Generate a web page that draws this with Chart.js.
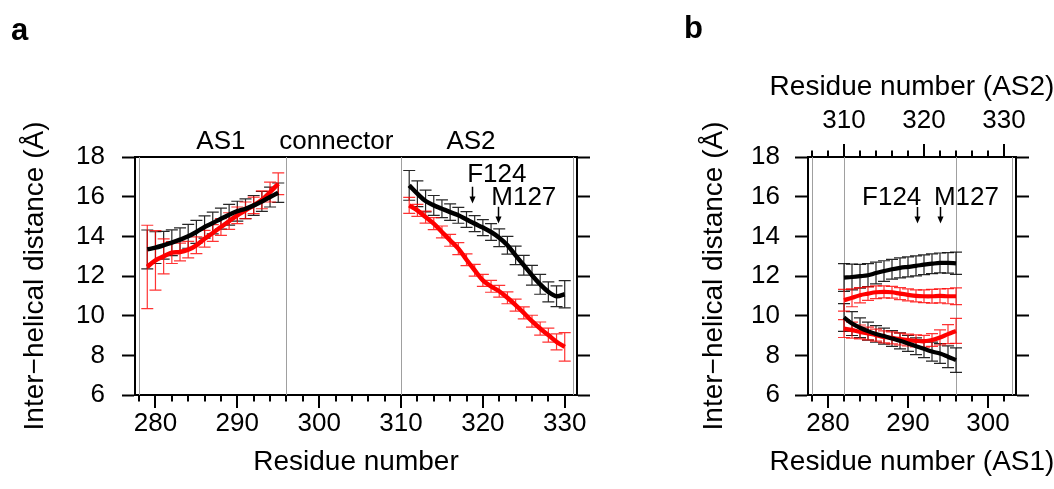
<!DOCTYPE html>
<html><head><meta charset="utf-8">
<script src="https://cdn.jsdelivr.net/npm/chart.js@4.4.0/dist/chart.umd.min.js"></script>
<style>
html,body{margin:0;padding:0;background:#fff;}
#wrap{position:relative;width:1054px;height:489px;overflow:hidden;background:#fff;}
#ca{position:absolute;left:0;top:0;width:620px;height:489px;}
#cb{position:absolute;left:640px;top:0;width:414px;height:489px;}
.plab{position:absolute;font-family:'Liberation Sans',Arial,sans-serif;font-weight:bold;font-size:31px;line-height:31px;color:#000;}
</style></head><body>
<div id="wrap">
<canvas id="ca" width="620" height="489"></canvas>
<canvas id="cb" width="414" height="489"></canvas>
<div class="plab" style="left:11px;top:14px;">a</div>
<div class="plab" style="left:684px;top:12px;">b</div>
</div>
<script>
// ---------- data ----------
// panel a
const residuesAS1 = [279,280,281,282,283,284,285,286,287,288,289,290,291,292,293,294,295];
const blackAS1    = [13.34,13.43,13.55,13.68,13.83,14.00,14.22,14.47,14.67,14.89,15.09,15.27,15.39,15.56,15.76,15.98,16.20];
const blackAS1Err = [0.98,0.80,0.70,0.65,0.60,0.60,0.58,0.56,0.55,0.53,0.52,0.50,0.50,0.50,0.50,0.50,0.49];
const redAS1      = [12.46,12.79,12.99,13.18,13.21,13.33,13.55,13.88,14.17,14.47,14.77,15.06,15.31,15.56,15.84,16.23,16.65];
const redAS1Err   = [2.10,1.50,0.88,0.55,0.45,0.42,0.42,0.42,0.42,0.42,0.42,0.42,0.42,0.42,0.45,0.50,0.55];

const residuesAS2 = [311,312,313,314,315,316,317,318,319,320,321,322,323,324,325,326,327,328,329,330];
const blackAS2    = [16.57,16.15,15.78,15.56,15.39,15.22,15.06,14.85,14.64,14.44,14.22,13.93,13.55,13.04,12.54,12.04,11.58,11.20,10.98,11.08];
const blackAS2Err = [0.75,0.65,0.55,0.50,0.45,0.42,0.40,0.40,0.40,0.40,0.42,0.45,0.45,0.47,0.50,0.50,0.50,0.50,0.52,0.69];
const redAS2      = [15.56,15.31,14.97,14.64,14.22,13.80,13.38,12.82,12.29,11.78,11.48,11.23,10.90,10.53,10.14,9.72,9.35,9.02,8.68,8.43];
const redAS2Err   = [0.40,0.30,0.30,0.30,0.30,0.30,0.30,0.30,0.30,0.30,0.30,0.30,0.30,0.30,0.30,0.30,0.33,0.35,0.40,0.72];

// panel b (x = residue number of AS1)
const residuesB      = [282,283,284,285,286,287,288,289,290,291,292,293,294,295,296];
const blackUpperB    = [11.92,11.95,11.99,12.04,12.15,12.25,12.34,12.41,12.46,12.51,12.57,12.62,12.66,12.66,12.64];
const blackUpperBErr = [0.70,0.65,0.60,0.58,0.55,0.52,0.50,0.50,0.50,0.50,0.50,0.50,0.50,0.52,0.56];
const redUpperB      = [10.78,10.90,11.03,11.11,11.18,11.20,11.18,11.11,11.05,11.00,10.98,10.98,11.00,10.98,10.98];
const redUpperBErr   = [0.55,0.45,0.38,0.34,0.32,0.30,0.30,0.30,0.30,0.30,0.32,0.35,0.35,0.38,0.42];
const blackLowerB    = [9.91,9.60,9.39,9.22,9.08,8.97,8.85,8.73,8.60,8.46,8.33,8.19,8.09,7.93,7.76];
const blackLowerBErr = [0.70,0.60,0.50,0.45,0.42,0.40,0.40,0.40,0.40,0.42,0.45,0.48,0.50,0.55,0.62];
const redLowerB      = [9.35,9.27,9.18,9.10,9.02,8.93,8.88,8.82,8.77,8.73,8.71,8.77,8.90,9.07,9.23];
const redLowerBErr   = [0.45,0.40,0.35,0.32,0.30,0.30,0.30,0.30,0.30,0.30,0.30,0.32,0.38,0.48,0.63];

// ticks
const yTickValues   = [6,8,10,12,14,16,18];
const xTickLabelsA  = [280,290,300,310,320,330];
const xMinorTicksA  = [278,280,282,284,286,288,290,292,294,296,298,300,302,304,306,308,310,312,314,316,318,320,322,324,326,328,330];
const xTickLabelsB  = [280,290,300];
const xMinorTicksB  = [278,280,282,284,286,288,290,292,294,296,298,300,302];
const topTickLabelsB = [310,320,330];
const topMinorTicksB = [306,308,310,312,314,316,318,320,322,324,326,328,330];

// ---------- helpers ----------
const FONT = "'Liberation Sans', Arial, Helvetica, sans-serif";
Chart.defaults.font.family = FONT;
Chart.defaults.color = '#000';

function series(xs, ys, errs, color, errColor, width) {
  return {
    data: xs.map((x, i) => ({x: x, y: ys[i]})),
    err: errs, errColor: errColor,
    borderColor: color, backgroundColor: color, borderWidth: width,
    pointRadius: 0, tension: 0.35, fill: false, xAxisID: 'x', yAxisID: 'y'
  };
}

const errorBarPlugin = {
  id: 'errorBars',
  beforeDatasetsDraw(chart) {
    const ctx = chart.ctx, xs = chart.scales.x, ys = chart.scales.y;
    ctx.save();
    ctx.lineWidth = 1.2;
    chart.data.datasets.forEach(ds => {
      if (!ds.err) return;
      ctx.strokeStyle = ds.errColor;
      ds.data.forEach((p, i) => {
        const px = xs.getPixelForValue(p.x);
        const t = ys.getPixelForValue(p.y + ds.err[i]);
        const b = ys.getPixelForValue(p.y - ds.err[i]);
        ctx.beginPath();
        ctx.moveTo(px, t); ctx.lineTo(px, b);
        ctx.moveTo(px - 6, t); ctx.lineTo(px + 6, t);
        ctx.moveTo(px - 6, b); ctx.lineTo(px + 6, b);
        ctx.stroke();
      });
    });
    ctx.restore();
  }
};

function makeDeco(cfg) {
  return {
    id: 'deco',
    beforeDatasetsDraw(chart) {
      const ctx = chart.ctx, a = chart.chartArea, x = chart.scales.x;
      ctx.save();
      ctx.strokeStyle = '#a0a0a0'; ctx.lineWidth = 1;
      cfg.grayLines.forEach(v => {
        const px = Math.round(x.getPixelForValue(v)) + 0.5;
        ctx.beginPath(); ctx.moveTo(px, a.top); ctx.lineTo(px, a.bottom); ctx.stroke();
      });
      ctx.restore();
    },
    afterDraw(chart) {
      const ctx = chart.ctx, a = chart.chartArea;
      const x = chart.scales.x, y = chart.scales.y;
      ctx.save();
      ctx.strokeStyle = '#000'; ctx.lineWidth = 2;
      cfg.tickSets.forEach(ts => {
        const s = chart.scales[ts.axis];
        ts.values.forEach(v => {
          const px = Math.round(s.getPixelForValue(v));
          const len = ts.majors.includes(v) ? 13 : 6.5;
          const y0 = ts.dir === 'down' ? a.bottom : a.top;
          ctx.beginPath();
          ctx.moveTo(px, y0);
          ctx.lineTo(px, ts.dir === 'down' ? y0 + len : y0 - len);
          ctx.stroke();
        });
      });
      ctx.fillStyle = '#000';
      ctx.textAlign = 'center'; ctx.textBaseline = 'alphabetic';
      cfg.texts.forEach(t => {
        ctx.font = '26px ' + FONT;
        ctx.fillText(t.text, x.getPixelForValue(t.x), y.getPixelForValue(t.y));
      });
      // axis titles that must not be squeezed to the axis width
      (cfg.axisTitles || []).forEach(t => {
        ctx.font = '28px ' + FONT;
        ctx.textBaseline = 'middle';
        ctx.fillText(t.text, (a.left + a.right) / 2, t.yPix);
      });
      ctx.textBaseline = 'alphabetic';
      cfg.arrows.forEach(ar => {
        const px = Math.round(x.getPixelForValue(ar.x)) + 0.5;
        const y1 = y.getPixelForValue(ar.y1), y2 = y.getPixelForValue(ar.y2);
        ctx.lineWidth = 1.5;
        ctx.beginPath(); ctx.moveTo(px, y1); ctx.lineTo(px, y2 - 5); ctx.stroke();
        ctx.beginPath();
        ctx.moveTo(px - 3, y2 - 7); ctx.lineTo(px + 3, y2 - 7); ctx.lineTo(px, y2); ctx.closePath();
        ctx.fill();
      });
      ctx.restore();
    }
  };
}

function yAxis(width, pad, titlePad) {
  return {
    type: 'linear', position: 'left', min: 6, max: 18,
    afterBuildTicks: s => { s.ticks = yTickValues.map(v => ({value: v})); },
    ticks: {font: {size: 26}, color: '#000', padding: pad},
    grid: {drawOnChartArea: false, drawTicks: true, tickLength: 13, tickWidth: 2, tickColor: '#000'},
    border: {display: true, color: '#000', width: 2},
    title: {display: true, text: 'Inter\u2212helical distance (\u00C5)', font: {size: 28}, color: '#000', padding: {top: titlePad, bottom: 0}},
    afterFit: s => { s.width = width; }
  };
}
function yRight(width) {
  return {
    type: 'linear', position: 'right', min: 6, max: 18,
    afterBuildTicks: s => { s.ticks = yTickValues.map(v => ({value: v})); },
    ticks: {display: false},
    grid: {drawOnChartArea: false, drawTicks: true, tickLength: 13, tickWidth: 2, tickColor: '#000'},
    border: {display: true, color: '#000', width: 2},
    afterFit: s => { s.width = width; }
  };
}

// ---------- panel a ----------
new Chart(document.getElementById('ca'), {
  type: 'line',
  data: {datasets: [
    series(residuesAS1, blackAS1, blackAS1Err, '#000000', 'rgba(0,0,0,0.85)', 4.5),
    series(residuesAS2, blackAS2, blackAS2Err, '#000000', 'rgba(0,0,0,0.85)', 4.5),
    series(residuesAS1, redAS1, redAS1Err, '#ff0000', 'rgba(255,0,0,0.8)', 4.5),
    series(residuesAS2, redAS2, redAS2Err, '#ff0000', 'rgba(255,0,0,0.8)', 4.5)
  ]},
  options: {
    responsive: false, animation: false, devicePixelRatio: 1,
    layout: {padding: {top: 157, left: 0, right: 0, bottom: 0}, autoPadding: false},
    plugins: {legend: {display: false}, tooltip: {enabled: false}},
    scales: {
      x: {
        type: 'linear', position: 'bottom', min: 277.5, max: 331.5,
        afterBuildTicks: s => { s.ticks = xTickLabelsA.map(v => ({value: v})); },
        ticks: {font: {size: 26}, color: '#000', padding: 13, maxRotation: 0, autoSkip: false, callback: v => String(v)},
        grid: {drawOnChartArea: false, drawTicks: false},
        border: {display: true, color: '#000', width: 2},
        title: {display: true, text: 'Residue number', font: {size: 28}, color: '#000', padding: {top: 0, bottom: 10}},
        afterFit: s => { s.height = 94; }
      },
      xt: {
        type: 'linear', position: 'top', min: 277.5, max: 331.5,
        ticks: {display: false},
        grid: {drawOnChartArea: false, drawTicks: false},
        border: {display: true, color: '#000', width: 2},
        afterFit: s => { s.height = 0; }
      },
      y: yAxis(135, 17, 18),
      yr: yRight(43)
    }
  },
  plugins: [makeDeco({
    grayLines: [278, 296, 310, 331],
    tickSets: [{axis: 'x', values: xMinorTicksA, majors: xTickLabelsA, dir: 'down'}],
    texts: [
      {text: 'AS1', x: 288.0, y: 18.38},
      {text: 'connector', x: 302.1, y: 18.38},
      {text: 'AS2', x: 318.55, y: 18.38},
      {text: 'F124', x: 321.7, y: 16.74},
      {text: 'M127', x: 325.0, y: 15.58}
    ],
    arrows: [
      {x: 318.7, y1: 16.5, y2: 15.66},
      {x: 321.8, y1: 15.49, y2: 14.65}
    ]
  }), errorBarPlugin]
});

// ---------- panel b ----------
new Chart(document.getElementById('cb'), {
  type: 'line',
  data: {datasets: [
    series(residuesB, blackUpperB, blackUpperBErr, '#000000', 'rgba(0,0,0,0.85)', 4.2),
    series(residuesB, blackLowerB, blackLowerBErr, '#000000', 'rgba(0,0,0,0.85)', 4.2),
    series(residuesB, redUpperB, redUpperBErr, '#ff0000', 'rgba(255,0,0,0.8)', 4.2),
    series(residuesB, redLowerB, redLowerBErr, '#ff0000', 'rgba(255,0,0,0.8)', 4.2)
  ]},
  options: {
    responsive: false, animation: false, devicePixelRatio: 1,
    layout: {padding: {top: 0, left: 0, right: 0, bottom: 0}, autoPadding: false},
    plugins: {legend: {display: false}, tooltip: {enabled: false}},
    scales: {
      x: {
        type: 'linear', position: 'bottom', min: 277.5, max: 303.5,
        afterBuildTicks: s => { s.ticks = xTickLabelsB.map(v => ({value: v})); },
        ticks: {font: {size: 26}, color: '#000', padding: 13, maxRotation: 0, autoSkip: false, callback: v => String(v)},
        grid: {drawOnChartArea: false, drawTicks: false},
        border: {display: true, color: '#000', width: 2},
        afterFit: s => { s.height = 94; }
      },
      xt: {
        type: 'linear', position: 'top', min: 305.5, max: 331.5,
        afterBuildTicks: s => { s.ticks = topTickLabelsB.map(v => ({value: v})); },
        ticks: {font: {size: 26}, color: '#000', padding: 21, maxRotation: 0, autoSkip: false, callback: v => String(v)},
        grid: {drawOnChartArea: false, drawTicks: false},
        border: {display: true, color: '#000', width: 2},
        afterFit: s => { s.height = 157; }
      },
      y: yAxis(168, 15, 57),
      yr: yRight(38)
    }
  },
  plugins: [makeDeco({
    grayLines: [278, 282, 296, 303],
    tickSets: [
      {axis: 'x', values: xMinorTicksB, majors: xTickLabelsB, dir: 'down'},
      {axis: 'xt', values: topMinorTicksB, majors: topTickLabelsB, dir: 'up'}
    ],
    texts: [
      {text: 'F124', x: 287.96, y: 15.58},
      {text: 'M127', x: 297.3, y: 15.58}
    ],
    axisTitles: [
      {text: 'Residue number (AS2)', yPix: 87},
      {text: 'Residue number (AS1)', yPix: 462}
    ],
    arrows: [
      {x: 291.1, y1: 15.48, y2: 14.65},
      {x: 294.0, y1: 15.48, y2: 14.65}
    ]
  }), errorBarPlugin]
});
</script>
</body></html>
